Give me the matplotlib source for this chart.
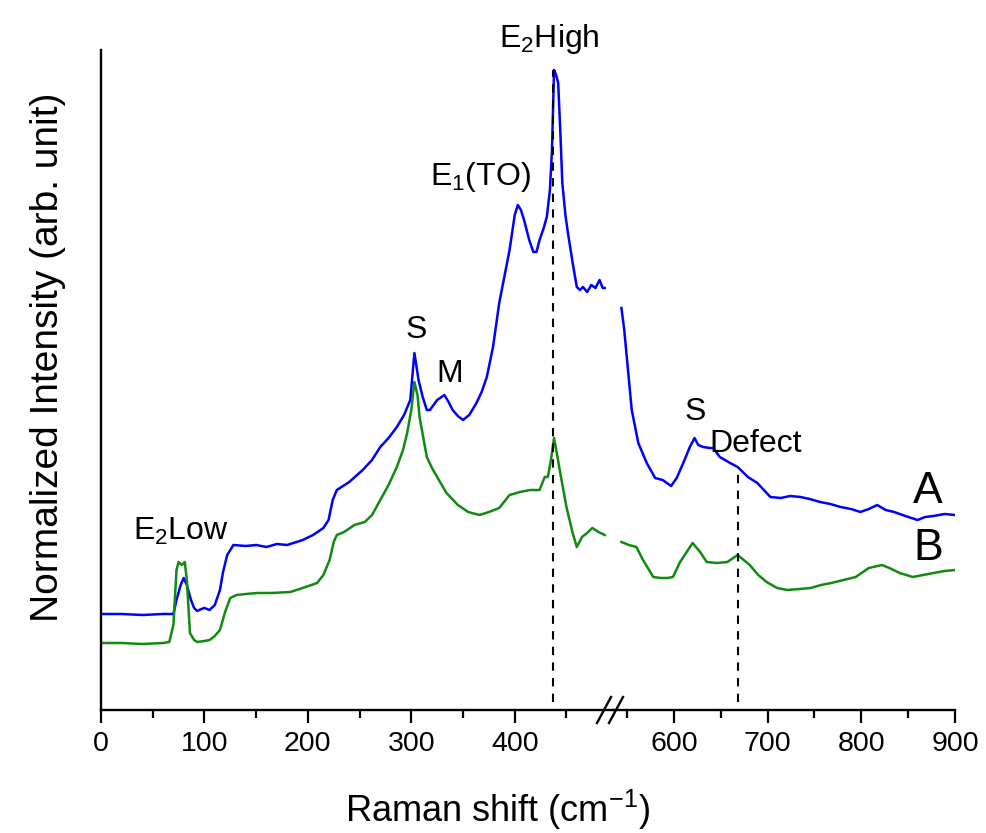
import numpy as np
import matplotlib.pyplot as plt
from matplotlib import font_manager
from matplotlib.lines import Line2D
from matplotlib.ticker import MultipleLocator

#font setup, tick labels in the narrow face if it is there
names = {f.name for f in font_manager.fontManager.ttflist}
narrow = 'Liberation Sans Narrow' if 'Liberation Sans Narrow' in names else 'Liberation Sans'
plt.rcParams['font.family'] = ['Liberation Sans', 'DejaVu Sans']
plt.rcParams['mathtext.fontset'] = 'custom'
plt.rcParams['mathtext.rm'] = 'Liberation Sans'
plt.rcParams['mathtext.it'] = 'Liberation Sans:italic'
plt.rcParams['mathtext.default'] = 'rm'

#spectrum A (blue), intensity in arb. units
a_shift = [0, 20, 40, 60, 70, 73, 77, 80, 83, 87, 90, 93, 97, 100, 105, 110, 115, 118, 122, 128,
           140, 150, 160, 170, 180, 195, 205, 215, 220, 224, 228, 240, 253, 262, 270, 278, 286, 293, 299, 303,
           307, 311, 315, 318, 325, 332, 336, 340, 345, 350, 356, 363, 368, 373, 379, 385, 395, 400, 403, 406,
           409, 414, 418, 421, 424, 428, 431, 434, 436, 438, 440, 442, 444, 446, 449, 451, 456, 460, 463, 466,
           470, 474, 478, 482, 485, 487,
           544, 547, 550, 555, 562, 571, 580, 588, 597, 603, 610, 617, 622, 626, 631, 638, 642, 649, 660, 668,
           679, 689, 703, 714, 724, 735, 745, 756, 767, 778, 789, 799, 808, 817, 826, 835, 847, 860, 868, 877,
           889, 900]
a_int = [96, 96, 95, 96, 96, 110, 125, 132, 125, 110, 102, 99, 101, 102, 100, 105, 120, 138, 155, 165,
         164, 165, 163, 166, 165, 170, 175, 182, 190, 210, 220, 228, 240, 250, 263, 272, 283, 295, 310, 357,
         330, 313, 300, 300, 310, 315, 308, 300, 294, 290, 295, 307, 318, 333, 363, 407, 460, 495, 505, 500,
         490, 470, 458, 458, 470, 482, 493, 520, 560, 640, 635, 627, 580, 527, 495, 480, 447, 423, 420, 423,
         418, 425, 422, 430, 422, 422,
         402, 380, 350, 300, 267, 247, 232, 230, 224, 232, 247, 263, 272, 265, 263, 262, 262, 253, 247, 243,
         233, 227, 213, 212, 214, 213, 211, 208, 206, 203, 201, 198, 201, 205, 200, 198, 194, 190, 193, 194,
         196, 195]

#spectrum B (green)
b_shift = [0, 20, 40, 60, 66, 70, 73, 75, 78, 81, 83, 86, 90, 93, 100, 105, 110, 115, 120, 125,
           131, 140, 151, 165, 183, 195, 209, 215, 221, 225, 228, 235, 245, 255, 262, 270, 278, 286, 292, 296,
           300, 303, 306, 308, 312, 315, 320, 325, 334, 345, 355, 366, 375, 385, 395, 405, 415, 424, 429, 432,
           435, 438, 441, 444, 450, 456, 460, 465, 470, 475, 481, 487,
           544, 552, 560, 567, 578, 586, 593, 599, 606, 615, 620, 628, 635, 646, 657, 668, 681, 690,
           699, 710, 721, 734, 746, 757, 768, 781, 794, 808, 822, 830, 841, 855, 866, 877, 889, 900]
b_int = [67, 67, 66, 67, 68, 85, 140, 148, 145, 148, 130, 77, 70, 68, 69, 70, 74, 80, 98, 112,
         115, 116, 117, 117, 118, 122, 127, 135, 150, 168, 175, 178, 185, 188, 195, 210, 225, 243, 260, 277,
         300, 328, 315, 293, 270, 253, 242, 233, 217, 205, 198, 195, 198, 202, 215, 218, 220, 220, 233, 233,
         250, 272, 255, 237, 203, 177, 163, 173, 177, 182, 178, 175,
         168, 165, 163, 150, 133, 132, 132, 133, 147, 160, 167, 158, 148, 147, 148, 155, 145, 135,
         128, 122, 120, 121, 122, 125, 127, 130, 133, 142, 145, 142, 137, 133, 135, 137, 139, 140]

#peak markers: position and top of dashed line
mark_shift = [437, 668]
mark_top = [640, 243]

#broken axis limits
left_lim = (0, 495)
right_lim = (535, 900)

def with_gap(x, y):
    #put a nan where the data jumps over the axis break
    x = np.array(x, float)
    y = np.array(y, float)
    i = np.where(np.diff(x) > 30)[0] + 1
    return np.insert(x, i, np.nan), np.insert(y, i, np.nan)

ax_x, ay = with_gap(a_shift, a_int)
bx, by = with_gap(b_shift, b_int)

fig = plt.figure(figsize=(9.87, 8.33), dpi=100)
W, H = 987, 833
bot = 1 - 710 / H
hgt = (710 - 50) / H
ax1 = fig.add_axes([101 / W, bot, (613 - 101) / W, hgt])
ax2 = fig.add_axes([613 / W, bot, (955 - 613) / W, hgt], sharey=ax1)

for ax, lim in ((ax1, left_lim), (ax2, right_lim)):
    ax.plot(ax_x, ay, color='#0000ff', lw=1.8)
    ax.plot(bx, by, color='#108a10', lw=1.8)
    ax.set_xlim(*lim)
    ax.set_ylim(0, 660)
    ax.spines['top'].set_visible(False)
    ax.spines['right'].set_visible(False)
    ax.spines['bottom'].set_linewidth(1.7)
    ax.spines['left'].set_linewidth(1.7)
    ax.tick_params(axis='x', which='major', direction='out', length=9, width=1.6, pad=6,
                   labelsize=20.5)
    ax.tick_params(axis='x', which='minor', direction='out', length=5.5, width=1.6)
    ax.tick_params(axis='y', left=False, labelleft=False)
    ax.xaxis.set_major_locator(MultipleLocator(100))
    ax.xaxis.set_minor_locator(MultipleLocator(50))
    for lab in ax.get_xticklabels():
        lab.set_fontfamily(narrow)
    ax.patch.set_alpha(0)
ax2.spines['left'].set_visible(False)

#dashed peak lines
dash = dict(color='black', lw=1.5, ls=(0, (4, 3.5)))
ax1.plot([mark_shift[0]] * 2, [8, mark_top[0]], **dash)
ax2.plot([mark_shift[1]] * 2, [8, mark_top[1]], **dash)

#break marks on the axis
for x0 in (597, 609):
    fig.add_artist(Line2D([x0 / W, (x0 + 14) / W], [1 - 723 / H, 1 - 697 / H],
                          transform=fig.transFigure, color='black', lw=1.7))

#peak labels
fs = 23
ax1.text(77, 170, 'E$_2$Low', fontsize=fs, ha='center', va='baseline')
ax1.text(305, 372, 'S', fontsize=fs, ha='center', va='baseline')
ax1.text(337, 328, 'M', fontsize=fs, ha='center', va='baseline')
ax1.text(318, 525, 'E$_1$(TO)', fontsize=fs, ha='left', va='baseline')
ax1.text(385, 663, 'E$_2$High', fontsize=fs, ha='left', va='baseline', clip_on=False)
ax2.text(623, 290, 'S', fontsize=fs, ha='center', va='baseline')
ax2.text(638, 258, 'Defect', fontsize=fs, ha='left', va='baseline')
ax2.text(871, 207, 'A', fontsize=32, ha='center', va='baseline')
ax2.text(871, 150, 'B', fontsize=32, ha='center', va='baseline')

fig.text(48 / W, 1 - 357 / H, 'Normalized Intensity (arb. unit)', rotation=90,
         fontsize=28, ha='center', va='center')
fig.text(498 / W, 1 - 822 / H, 'Raman shift (cm$^{-1}$)', fontsize=26, ha='center', va='baseline')

fig.savefig('out.png', dpi=100)
